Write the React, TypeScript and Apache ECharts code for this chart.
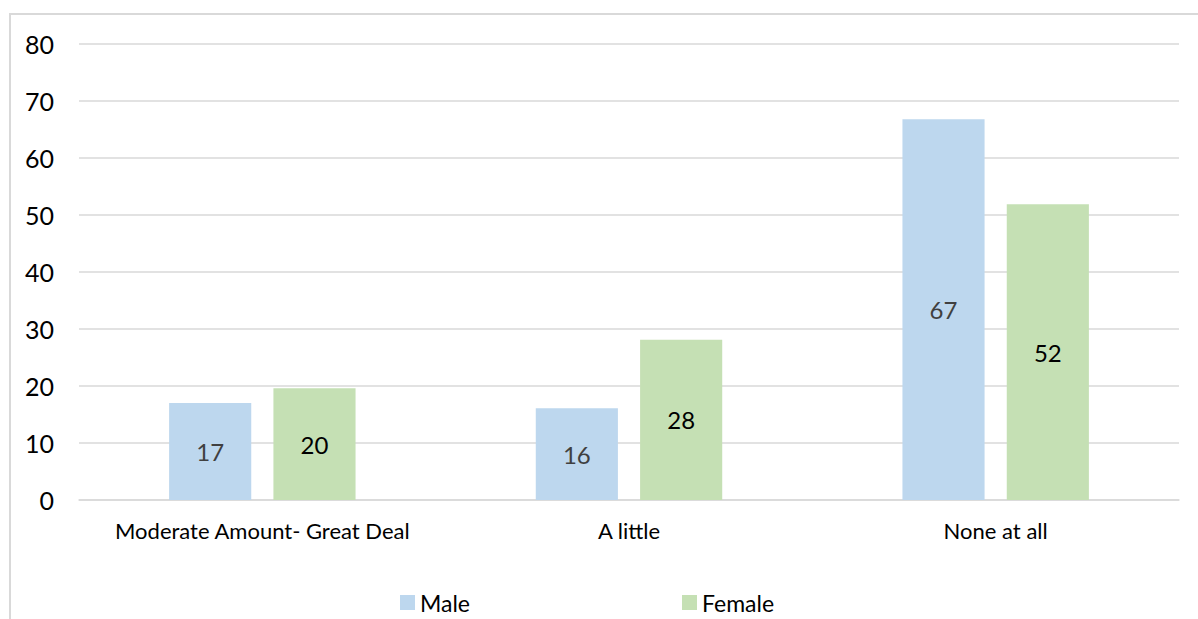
import React, { useEffect, useRef } from "react";
import * as echarts from "echarts";

const categories = ["Moderate Amount- Great Deal", "A little", "None at all"];
const maleValues = [17.0, 16.1, 66.8];
const femaleValues = [19.6, 28.1, 51.9];
const yTicks = { min: 0, max: 80, interval: 10 };

export default function App() {
  const ref = useRef<HTMLDivElement>(null);
  useEffect(() => {
    if (!ref.current) return;
    const chart = echarts.init(ref.current, undefined, { renderer: "svg" });
    const font = "Lato, 'Open Sans', sans-serif";
    chart.setOption({
      animation: false,
      backgroundColor: "#ffffff",
      textStyle: { fontFamily: font },
      graphic: [
        {
          type: "rect",
          shape: { x: 10, y: 14, width: 1250, height: 700 },
          style: { fill: "none", stroke: "#D9D9D9", lineWidth: 2 },
          silent: true,
          z: -10,
        },
      ],
      grid: { left: 79, right: 19, top: 44, bottom: 119, containLabel: false },
      legend: {
        top: 589,
        left: 400,
        padding: 0,
        itemWidth: 15,
        itemHeight: 15,
        itemGap: 212,
        icon: "rect",
        textStyle: { fontSize: 23, color: "#000000", fontFamily: font, lineHeight: 27 },
        data: ["Male", "Female"],
      },
      xAxis: {
        type: "category",
        data: categories,
        axisLine: { show: true, lineStyle: { color: "#D9D9D9", width: 1.5 } },
        axisTick: { show: false },
        axisLabel: {
          fontSize: 22,
          color: "#000000",
          margin: 19,
          fontFamily: font,
          interval: 0,
          hideOverlap: false,
        },
      },
      yAxis: {
        type: "value",
        min: yTicks.min,
        max: yTicks.max,
        interval: yTicks.interval,
        axisLine: { show: false },
        axisTick: { show: false },
        splitLine: { lineStyle: { color: "#D9D9D9", width: 1.5 } },
        axisLabel: { fontSize: 25, color: "#000000", margin: 25, fontFamily: font },
      },
      series: [
        {
          name: "Male",
          type: "bar",
          data: maleValues,
          barWidth: "22.4%",
          barGap: "27%",
          itemStyle: { color: "#BDD7EE" },
          label: {
            show: true,
            position: "inside",
            fontSize: 24,
            color: "#404040",
            fontFamily: font,
            formatter: (p: any) => String(Math.round(p.value)),
          },
        },
        {
          name: "Female",
          type: "bar",
          data: femaleValues,
          barWidth: "22.4%",
          itemStyle: { color: "#C5E0B4" },
          label: {
            show: true,
            position: "inside",
            fontSize: 24,
            color: "#000000",
            fontFamily: font,
            formatter: (p: any) => String(Math.round(p.value)),
          },
        },
      ],
    });
    return () => chart.dispose();
  }, []);
  return (
    <div
      ref={ref}
      style={{ position: "fixed", left: 0, top: 0, width: 1198, height: 619 }}
    />
  );
}
